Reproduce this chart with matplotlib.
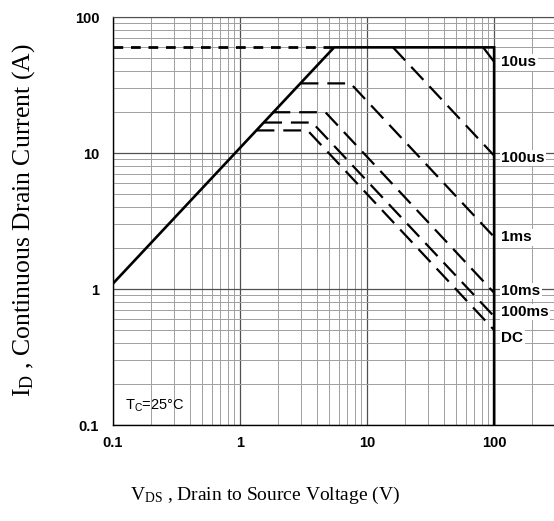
import matplotlib
matplotlib.use("Agg")
import matplotlib.pyplot as plt

plt.rcParams["mathtext.fontset"] = "custom"
plt.rcParams["mathtext.rm"] = "Liberation Serif"
plt.rcParams["mathtext.sf"] = "Liberation Sans"

# Safe operating area boundary (solid)
soa_v = [0.1, 5.5, 100, 100]
soa_i = [1.1, 60, 60, 0.1]

# package / wire limit (dashed, thick)
limit_v = [0.1, 5.5]
limit_i = [60, 60]

# pulse curves
curve_names = ["10us", "100us", "1ms", "10ms", "100ms", "DC"]
curve_v = [
    [82, 100],
    [16, 100],
    [3.0, 7.4, 100],
    [1.8, 4.7, 100],
    [1.55, 3.7, 100],
    [1.35, 3.4, 100],
]
curve_i = [
    [60, 47],
    [60, 9.6],
    [32.6, 32.6, 2.42],
    [20, 20, 0.94],
    [16.8, 16.8, 0.63],
    [14.7, 14.7, 0.5],
]
label_y = [46.7, 9.2, 2.41, 0.97, 0.68, 0.435]

fig = plt.figure(figsize=(5.54, 5.21), dpi=100)
ax = fig.add_axes([0.204, 0.184, 0.796, 0.783])

ax.set_xscale("log")
ax.set_yscale("log")
ax.set_xlim(0.1, 296)
ax.set_ylim(0.1, 100)

# --- Grid ---
ax.grid(which="minor", color="#a0a0a0", linewidth=0.7)
ax.grid(which="major", color="#505050", linewidth=0.9)
ax.set_axisbelow(True)

# --- Curves ---
ax.plot(limit_v, limit_i, color="black", linewidth=2.0, linestyle=(0, (3.5, 2.8)))
for v, i in zip(curve_v, curve_i):
    ax.plot(v, i, color="black", linewidth=1.6, linestyle=(0, (8, 4)))
ax.plot(soa_v, soa_i, color="black", linewidth=1.9, solid_joinstyle="miter")

# --- Curve labels ---
for name, y in zip(curve_names, label_y):
    ax.text(114, y, name, fontsize=11, fontweight="bold", family="Liberation Sans",
            va="center", ha="left",
            bbox=dict(facecolor="white", edgecolor="none", pad=1.0))

ax.text(0.125, 0.14, r"T$_{\mathsf{C}}$=25°C", fontsize=10.5, family="Liberation Sans",
        va="center", ha="left")

# --- Ticks ---
ax.set_xticks([0.1, 1, 10, 100])
ax.set_xticklabels(["0.1", "1", "10", "100"])
ax.set_yticks([0.1, 1, 10, 100])
ax.set_yticklabels(["0.1", "1", "10", "100"])
ax.tick_params(which="both", length=0)
ax.tick_params(axis="y", pad=10)
ax.tick_params(axis="x", pad=8)
for lab in ax.get_xticklabels() + ax.get_yticklabels():
    lab.set_fontweight("bold")
    lab.set_fontsize(10.5)
    lab.set_family("Liberation Sans")

for side in ["left", "bottom"]:
    ax.spines[side].set_color("black")
    ax.spines[side].set_linewidth(1.0)
ax.spines["top"].set_color("#505050")
ax.spines["right"].set_visible(False)

# --- Axis labels ---
fig.text(0.478, 0.05, r"$\mathregular{V_{DS}}$ , Drain to Source Voltage (V)",
         fontsize=14, family="Liberation Serif", ha="center", va="center")
fig.text(0.042, 0.578, r"$\mathregular{I_D}$ , Continuous Drain Current (A)",
         fontsize=18.5, family="Liberation Serif", ha="center", va="center",
         rotation=90)

fig.savefig("out.png", dpi=100)
